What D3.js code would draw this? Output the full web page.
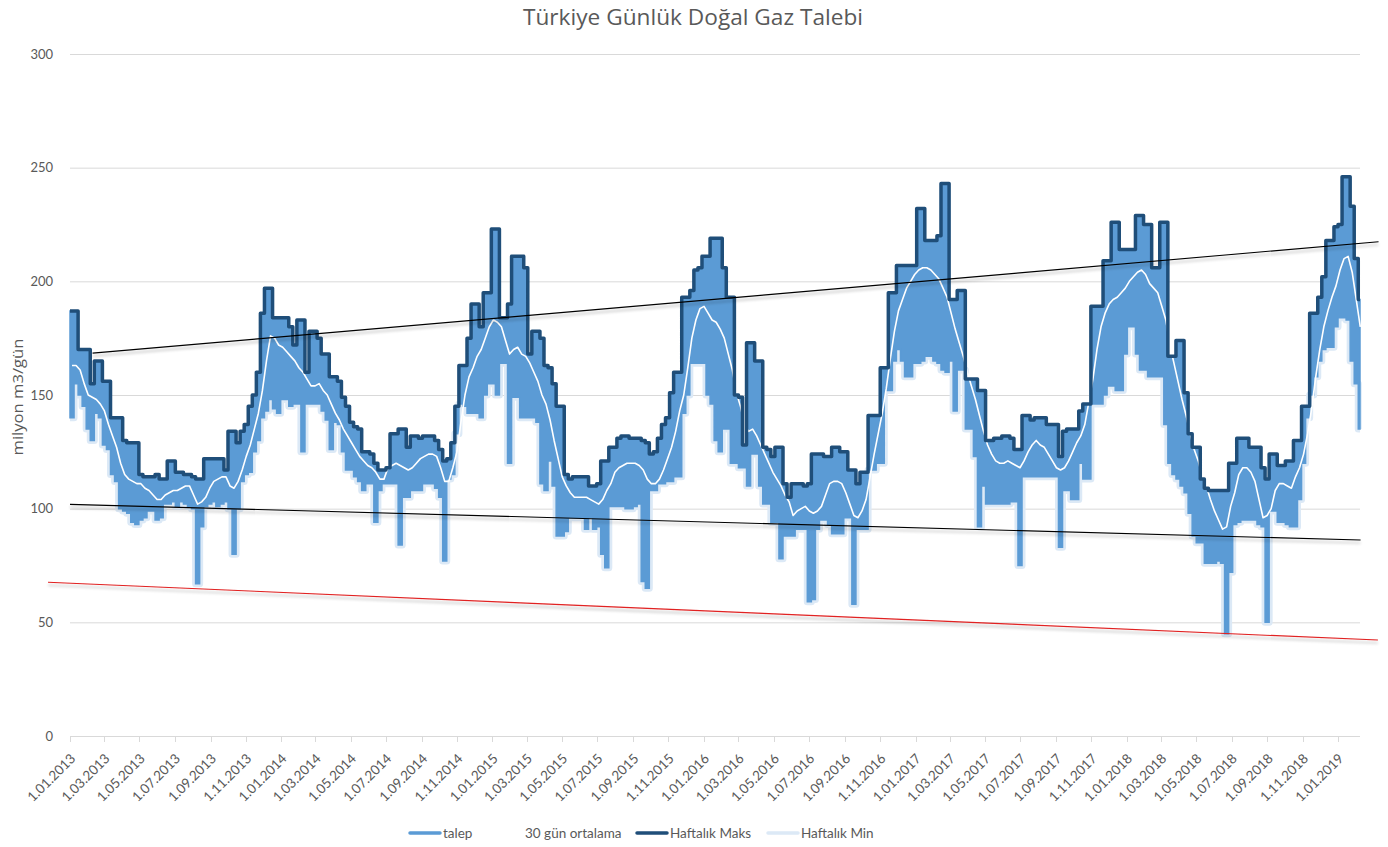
<!DOCTYPE html>
<html><head><meta charset="utf-8">
<script src="https://cdn.jsdelivr.net/npm/d3@7"></script>
<style>body{margin:0;background:#fff;}svg{font-family:Lato,"Open Sans",sans-serif;}</style>
</head><body><svg id="c" width="1388" height="847"></svg>
<script>
// ---- data (weekly, starting 2013-01-01) ----
const startDate = "2013-01-01";
const endDate = "2019-02-08";
const weeklyMax = [
187,187,170,170,170,155,165,165,156,156,
140,140,140,130,129,129,129,115,114,114,
114,115,113,113,121,121,116,116,115,115,
114,113,113,122,122,122,122,122,117,134,
134,129,134,137,145,150,160,186,197,197,
184,184,184,184,180,172,183,183,160,178,
178,175,168,168,158,158,156,149,145,138,
136,135,125,125,124,120,117,117,118,133,
133,135,135,127,132,132,131,132,132,132,
130,126,121,122,129,145,163,163,175,190,
190,180,195,195,223,223,184,184,190,211,
211,211,206,168,178,178,175,163,162,155,
145,145,115,113,114,114,114,114,110,110,
111,121,121,127,127,131,132,132,131,131,
131,130,129,124,125,131,137,140,151,160,
160,193,193,196,205,206,211,211,219,219,
219,206,193,193,150,149,128,173,173,165,
165,127,126,123,127,127,111,105,111,111,
111,110,111,124,124,124,123,123,127,127,
125,125,117,117,111,116,116,141,141,141,
162,162,195,195,207,207,207,207,207,232,
232,218,218,218,220,243,243,192,192,196,
196,157,157,157,152,152,130,130,131,131,
132,132,131,126,126,141,141,139,140,140,
140,137,137,137,123,134,135,135,135,143,
146,146,189,189,189,209,209,226,226,214,
214,214,214,229,229,225,225,206,206,226,
226,167,167,174,174,151,133,127,127,113,
109,108,108,108,108,108,120,120,131,131,
131,127,127,127,118,113,124,124,119,119,
121,121,130,130,145,145,186,186,193,202,
218,218,224,225,246,246,233,210,192];
const weeklyMin = [
140,155,150,145,135,130,142,140,128,126,
115,112,100,99,98,94,93,95,96,99,
99,95,96,102,102,103,101,103,102,101,
100,67,92,101,102,103,101,102,103,100,
80,100,112,115,116,125,130,140,143,148,
144,142,148,148,145,146,146,125,146,146,
146,146,143,139,126,138,137,125,117,117,
114,112,108,111,111,94,108,111,111,111,
111,84,105,105,108,108,108,111,111,111,
109,105,77,113,115,133,146,145,142,142,
142,140,150,155,155,150,164,164,120,149,
149,140,140,140,140,138,111,108,121,110,
88,88,90,96,96,96,96,91,96,91,
92,80,74,101,101,101,101,100,100,101,
102,68,65,108,108,111,111,112,112,114,
114,142,150,164,164,164,164,150,146,130,
125,135,135,120,120,118,118,110,124,124,
110,102,102,94,94,78,88,88,88,91,
91,91,59,60,91,95,95,93,89,89,
89,96,96,58,91,91,91,117,117,120,
120,152,152,165,170,165,158,158,164,164,
165,167,167,165,164,161,160,165,143,161,
161,135,135,123,92,110,102,102,102,102,
102,102,103,103,75,114,114,114,114,114,
114,114,114,114,83,108,108,104,104,120,
113,113,146,146,146,150,154,154,152,152,
168,180,180,168,161,161,158,158,158,158,
137,120,115,113,110,107,98,88,85,85,
76,76,76,77,76,45,72,93,94,95,
95,95,95,93,92,50,99,99,94,94,
93,92,92,104,120,140,150,158,165,170,
171,171,180,184,184,183,165,155,135];
const avg30 = [
163,163,161,155,150,149,148,146,143,137,
132,127,120,115,113,112,111,111,109,108,
106,104,104,106,107,108,108,109,110,110,
106,102,103,105,109,112,113,114,114,110,
109,112,117,123,128,135,142,152,165,176,
175,172,171,169,167,165,162,160,157,154,
154,155,152,150,146,142,139,135,132,129,
126,123,121,119,118,116,113,113,118,119,
120,119,118,117,118,120,122,123,124,124,
123,118,112,112,118,125,138,150,158,162,
167,170,175,180,183,182,180,174,168,170,
171,168,167,164,160,156,150,146,139,130,
122,114,110,107,105,105,105,105,104,103,
102,104,108,111,116,118,119,120,120,120,
119,117,113,111,111,113,117,122,127,134,
143,150,162,175,183,188,189,186,183,182,
179,175,168,161,151,145,137,134,135,132,
128,124,120,116,113,110,106,103,97,99,
100,101,99,98,99,101,106,111,112,112,
111,107,102,97,96,99,104,114,124,133,
142,153,166,178,187,192,197,200,203,205,
206,206,205,203,201,197,193,186,179,173,
167,160,154,148,141,134,128,124,121,120,
120,121,120,119,118,121,125,128,130,128,
127,124,121,118,117,118,121,125,129,132,
137,147,157,170,180,186,190,192,193,195,
197,200,202,204,205,203,199,197,195,189,
183,172,164,156,148,141,133,126,121,114,
110,104,99,95,91,92,101,107,115,118,
118,116,112,104,96,97,100,108,111,111,
110,109,114,118,124,133,144,158,170,180,
187,193,198,205,210,211,204,192,180];
const yTicks = [0, 50, 100, 150, 200, 250, 300];
const seriesNames = ["talep", "30 gün ortalama", "Haftalık Maks", "Haftalık Min"];
const trendUpper = [["2013-02-09", 168.4], ["2019-03-12", 217.4]];
const trendLower = [["2013-01-01", 101.9], ["2019-02-09", 86.2]];
const trendRed   = [["2012-11-24", 67.6], ["2019-03-11", 42.2]];
const titleText = "Türkiye Günlük Doğal Gaz Talebi";
const yTitle = "milyon m3/gün";

// ---- drawing ----
const parse = d3.timeParse("%Y-%m-%d");
const t0 = parse(startDate), t1 = parse(endDate);
const svg = d3.select("#c");
const x = d3.scaleTime().domain([t0, t1]).range([70, 1360]);
const y = d3.scaleLinear().domain([0, 300]).range([736, 54]);
const txtCol = "#595959";

const defs = svg.append("defs");
const f = defs.append("filter").attr("id", "sh").attr("x", "-5%").attr("y", "-200%").attr("width", "110%").attr("height", "500%");
f.append("feGaussianBlur").attr("in", "SourceAlpha").attr("stdDeviation", 1.6).attr("result", "b");
f.append("feOffset").attr("in", "b").attr("dy", 3).attr("result", "o");
f.append("feComponentTransfer").attr("in", "o").attr("result", "o2").append("feFuncA").attr("type", "linear").attr("slope", 0.3);
const fm = f.append("feMerge"); fm.append("feMergeNode").attr("in", "o2"); fm.append("feMergeNode").attr("in", "SourceGraphic");

// grid
svg.append("g").selectAll("line").data(yTicks).join("line")
  .attr("x1", 70).attr("x2", 1360).attr("y1", d => y(d) + 0.5).attr("y2", d => y(d) + 0.5)
  .attr("stroke", "#d9d9d9").attr("stroke-width", 1);
svg.append("g").selectAll("text").data(yTicks).join("text")
  .attr("x", 53).attr("y", d => y(d)).attr("dy", "0.35em").attr("text-anchor", "end")
  .attr("font-size", 13).attr("fill", txtCol).text(d => d);

// x ticks
const xt = d3.timeMonth.every(2).range(t0, d3.timeDay.offset(parse("2019-01-01"), 1));
const fmt = d3.timeFormat("%-d.%m.%Y");
svg.append("g").selectAll("line").data(xt).join("line")
  .attr("x1", d => Math.round(x(d)) + 0.5).attr("x2", d => Math.round(x(d)) + 0.5)
  .attr("y1", 736).attr("y2", 742).attr("stroke", "#d9d9d9");
svg.append("g").selectAll("text").data(xt).join("text")
  .attr("transform", d => `translate(${x(d) + 3},${756}) rotate(-45)`)
  .attr("text-anchor", "end").attr("dy", "0.35em")
  .attr("font-size", 13.5).attr("fill", txtCol).text(d => fmt(d));

// weekly records
const weeks = weeklyMax.map((v, i) => ({ d: d3.timeDay.offset(t0, 7 * i), max: v, min: weeklyMin[i], avg: avg30[i] }));
const last = weeks[weeks.length - 1];
const stepData = weeks.concat([{ d: t1, max: last.max, min: last.min }]);

const minLine = d3.line().x(d => x(d.d)).y(d => y(d.min)).curve(d3.curveStepAfter);
svg.append("path").datum(stepData).attr("d", minLine).attr("fill", "none")
  .attr("stroke", "#dce9f6").attr("stroke-width", 7).attr("stroke-linejoin", "round");

const talepArea = d3.area().x(d => x(d.d)).y0(d => y(d.min)).y1(d => y(d.max)).curve(d3.curveStepAfter);
svg.append("path").datum(stepData).attr("d", talepArea).attr("fill", "#5b9bd5")
  .attr("stroke", "#5b9bd5").attr("stroke-width", 1.5);

const avgLine = d3.line().x(d => x(d3.timeHour.offset(d.d, 84))).y(d => y(d.avg));
svg.append("path").datum(weeks).attr("d", avgLine).attr("fill", "none")
  .attr("stroke", "#ffffff").attr("stroke-width", 1.6).attr("stroke-linejoin", "round");

const maxLine = d3.line().x(d => x(d.d)).y(d => y(d.max)).curve(d3.curveStepAfter);
svg.append("path").datum(stepData).attr("d", maxLine).attr("fill", "none")
  .attr("stroke", "#1f4e79").attr("stroke-width", 3.5).attr("stroke-linejoin", "round");

// trend lines
const tl = d3.line().x(d => x(parse(d[0]))).y(d => y(d[1]));
[[trendUpper, "#000"], [trendLower, "#000"], [trendRed, "#e02020"]].forEach(([data, col]) => {
  svg.append("path").datum(data).attr("d", tl).attr("fill", "none")
    .attr("stroke", col).attr("stroke-width", 1.1).attr("filter", "url(#sh)");
});

// title & axis title
svg.append("text").attr("x", 693).attr("y", 25).attr("text-anchor", "middle")
  .attr("font-family", "'Open Sans', sans-serif")
  .attr("font-size", 21).attr("textLength", 340).attr("lengthAdjust", "spacingAndGlyphs")
  .attr("fill", txtCol).text(titleText);
svg.append("text").attr("transform", "translate(23,397) rotate(-90)").attr("text-anchor", "middle")
  .attr("font-family", "'Open Sans', sans-serif")
  .attr("font-size", 14).attr("textLength", 117).attr("lengthAdjust", "spacingAndGlyphs")
  .attr("fill", txtCol).text(yTitle);

// legend
const legCols = ["#5b9bd5", "#ffffff", "#1f4e79", "#dce9f6"];
const legX = [410, 492, 637, 768];
const lg = svg.append("g");
seriesNames.forEach((n, i) => {
  lg.append("line").attr("x1", legX[i]).attr("x2", legX[i] + 30).attr("y1", 833).attr("y2", 833)
    .attr("stroke", legCols[i]).attr("stroke-width", 3.5).attr("stroke-linecap", "round");
  lg.append("text").attr("x", legX[i] + 33).attr("y", 833).attr("dy", "0.35em")
    .attr("font-size", 13.5).attr("fill", txtCol).text(n);
});
</script></body></html>
